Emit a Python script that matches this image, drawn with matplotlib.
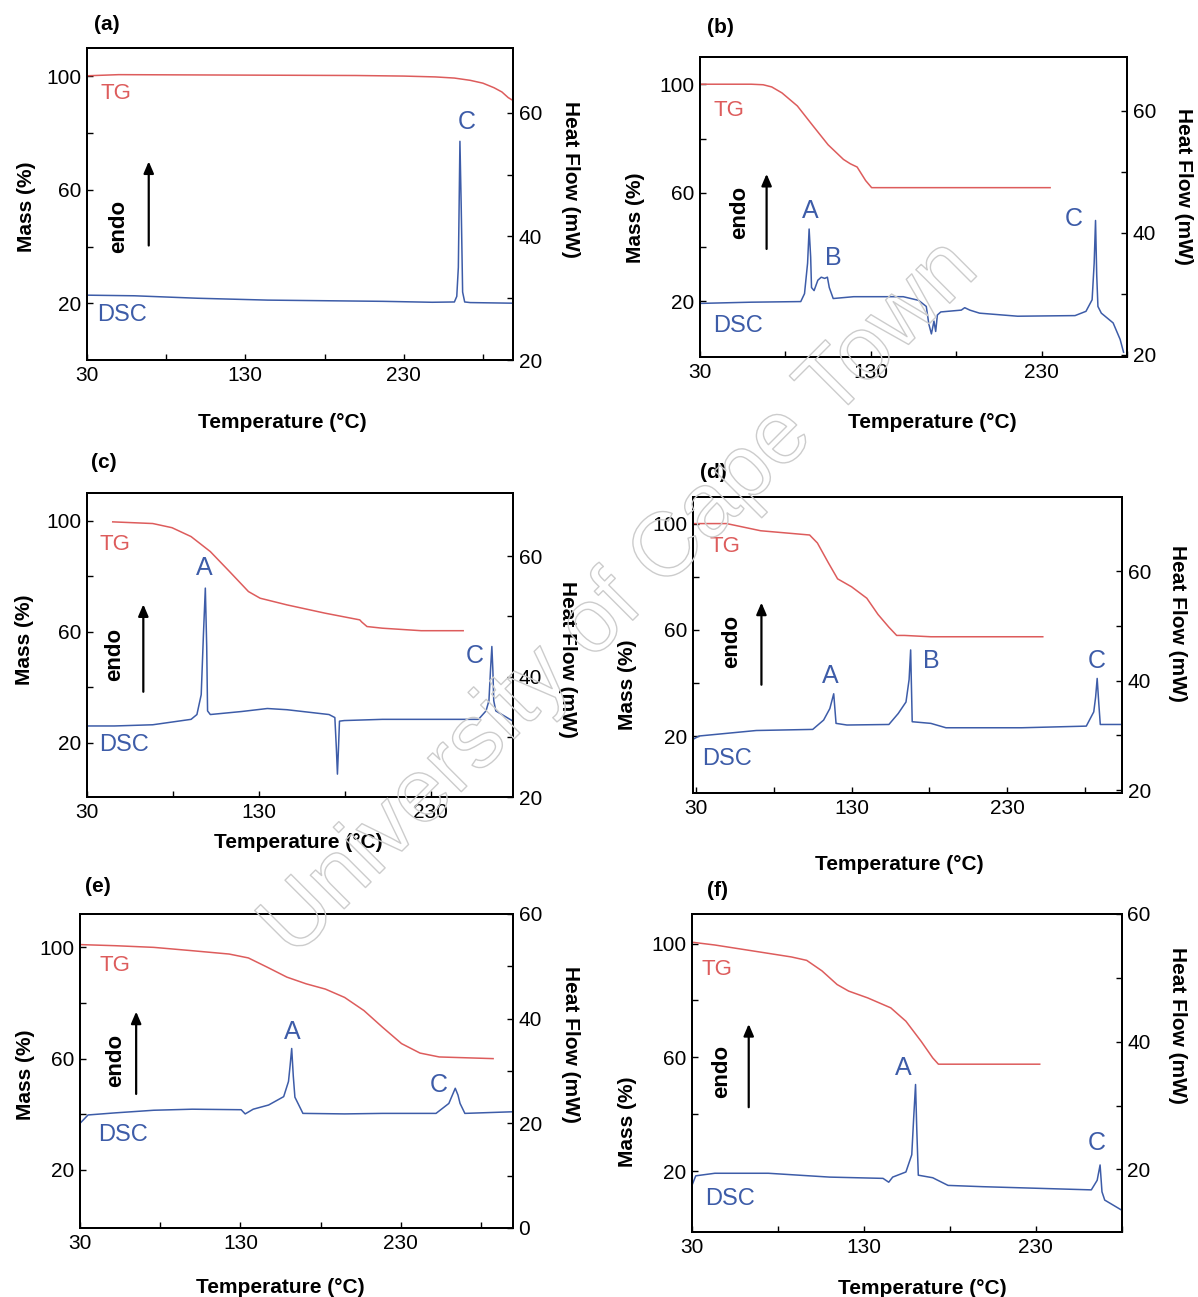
import numpy as np
import matplotlib.pyplot as plt
import matplotlib.patheffects as pe
from matplotlib.ticker import FixedLocator

plt.rcParams['font.family'] = ['Liberation Sans', 'DejaVu Sans']

RED = "#dd5c5c"
BLUE = "#3d5ca8"

# ---- (a) ----
tg_t_a = [30, 50, 100, 150, 200, 230, 250, 262, 272, 280, 287, 292, 296, 299]
tg_m_a = [100.2, 100.6, 100.5, 100.4, 100.3, 100.1, 99.8, 99.4, 98.6, 97.6, 96, 94.5, 92.5, 91.5]
dsc_t_a = [30, 60, 100, 144, 180, 217, 248, 262, 263.5, 264.5, 265.5, 266.3, 267.2, 268.5, 272, 299]
dsc_h_a = [30.5, 30.4, 30.0, 29.7, 29.6, 29.5, 29.35, 29.4, 30.3, 35, 55.4, 45, 31, 29.4, 29.3, 29.2]

# ---- (b) ----
tg_t_b = [30, 60, 67, 72, 78, 87, 96, 105, 114, 118, 122, 127, 130.5, 180, 235]
tg_m_b = [100, 100, 99.8, 99, 96.8, 92, 84.8, 77.7, 72.3, 70.7, 69.5, 64.5, 61.9, 61.9, 61.9]
dsc_t_b = [30, 60, 89, 91.2, 93, 93.9, 94.8, 95.3, 96.8, 99, 101, 103, 104.6, 105.7, 108, 120, 149,
           158, 162.5, 164, 165.5, 167, 168, 169, 171, 183, 185, 188, 193.7, 216, 249.6, 256, 259.6,
           260.8, 261.6, 262.3, 263, 265, 271.9, 276, 278]
dsc_h_b = [28.4, 28.6, 28.7, 30, 35, 40.6, 36, 31, 30.5, 32.2, 32.7, 32.5, 32.7, 31, 29.2, 29.5, 29.5,
           28.9, 27.9, 25, 23.4, 25.5, 23.8, 26.5, 27, 27.3, 27.7, 27.3, 26.8, 26.3, 26.4, 27.1, 29,
           35, 42, 33, 27.9, 26.8, 25.2, 22.5, 20.4]

# ---- (c) ----
tg_t_c = [45, 68.3, 79.5, 90.6, 101.8, 113, 124, 130.8, 146.4, 168.7, 188.8, 190, 193, 202, 224.6, 249]
tg_m_c = [99.6, 99, 97.5, 94.3, 88.9, 81.7, 74.5, 72.1, 69.7, 66.7, 64.3, 63.5, 61.9, 61.3, 60.4, 60.4]
dsc_t_c = [30, 46, 68.3, 90.6, 94, 96.5, 97.8, 98.9, 99.7, 100.2, 101.8, 120, 135, 146.4, 170.9, 174.3,
           175.2, 175.8, 176.4, 177, 179.8, 202, 257.9, 262.3, 264, 264.9, 265.7, 266.3, 266.8, 268, 278]
dsc_h_c = [31.8, 31.8, 32, 32.9, 33.7, 37, 47, 54.7, 45, 34.3, 33.7, 34.2, 34.7, 34.5, 33.7, 33.2,
           28, 23.8, 28, 32.6, 32.7, 32.9, 32.9, 34.3, 36, 41, 45, 41, 36, 34.3, 32.6]

# ---- (d) ----
tg_t_d = [29, 49.6, 71.5, 103, 108, 115, 121, 130, 139.8, 147, 154, 159, 164, 181, 253]
tg_m_d = [100, 100, 97.3, 95.7, 92.7, 85.3, 79.2, 76.2, 71.9, 65.8, 61, 57.9, 57.9, 57.4, 57.4]
dsc_t_d = [28, 32, 68.7, 105, 112, 116, 118.5, 120, 127, 154, 160, 165, 167, 168, 169, 181, 190.7,
           239.5, 281, 285.8, 287, 288, 289, 290, 304]
dsc_h_d = [29.3, 29.9, 30.9, 31.1, 32.8, 34.9, 37.6, 32.2, 31.9, 32, 34, 36.1, 40.2, 45.6, 32.5, 32.2,
           31.4, 31.4, 31.7, 34.3, 37, 40.4, 36, 32, 32]

# ---- (e) ----
tg_t_e = [30, 52, 76, 100, 123, 135, 147, 159, 171, 183, 195, 207, 218.6, 230.5, 242, 254, 287.6]
tg_m_e = [101, 100.6, 100, 98.8, 97.6, 96.2, 92.8, 89.3, 86.9, 85, 82, 77.3, 71.3, 65.4, 62, 60.6, 60]
dsc_t_e = [30, 35, 52, 76, 100, 130.5, 133, 138, 147.6, 157, 160, 161, 162, 163, 164, 169, 195,
           218.6, 252, 260, 264, 265.7, 267, 270, 299]
dsc_h_e = [20, 21.6, 22, 22.5, 22.7, 22.6, 21.8, 22.7, 23.5, 25.1, 28, 31, 34.3, 29, 25, 21.9, 21.8,
           21.9, 21.9, 23.8, 26.7, 25.4, 23.8, 21.9, 22.2]

# ---- (f) ----
tg_t_f = [31.1, 43.3, 65.6, 87.8, 96.7, 105.6, 114.4, 121.1, 132.2, 145.6, 154.4, 163.3, 170, 173.3, 232.2]
tg_m_f = [100.4, 99.5, 97.4, 95.3, 94.1, 90.4, 85.6, 83.3, 80.9, 77.4, 72.7, 65.6, 59.8, 57.6, 57.6]
dsc_t_f = [30, 32.2, 43.3, 74.4, 110, 141.1, 144.4, 146.7, 154.4, 157.8, 158.9, 160, 160.7, 161.6,
           170, 172.2, 178.9, 198.9, 262.2, 265.6, 267.3, 268.4, 270, 280]
dsc_h_f = [17.5, 19, 19.4, 19.4, 18.8, 18.6, 18, 18.8, 19.6, 22.3, 28, 33.3, 26.4, 19.1,
           18.7, 18.4, 17.5, 17.3, 16.8, 18.3, 20.7, 16.5, 15.2, 13.6]

panels = [
    dict(name="(a)", pos=[0.0726, 0.7224, 0.3556, 0.2406], xlim=(30, 299), mlim=(0, 110), hlim=(20, 70.5),
         tg=(tg_t_a, tg_m_a), dsc=(dsc_t_a, dsc_h_a), peaks=[("C", 270, 58.5)],
         tg_lab=(48, 94), dsc_lab=(52, 27.3), arrow=(69, 39.4, 71), endo=(50, 47),
         htick=[20, 40, 60], title=(0.047, 1.074), mass_lab=(-0.141, 0.49),
         hf_lab=(1.136, 0.58), t_lab=(0.458, -0.199)),
    dict(name="(b)", pos=[0.5843, 0.7247, 0.3564, 0.2313], xlim=(30, 280), mlim=(-0.5, 110), hlim=(19.6, 68.8),
         tg=(tg_t_b, tg_m_b), dsc=(dsc_t_b, dsc_h_b),
         peaks=[("A", 94.6, 43.6), ("B", 108, 35.9), ("C", 249, 42.2)],
         tg_lab=(47, 90.2), dsc_lab=(52, 24.7), arrow=(69, 38.3, 68), endo=(53, 52.6),
         htick=[20, 40, 60], title=(0.047, 1.097), mass_lab=(-0.152, 0.463),
         hf_lab=(1.132, 0.57), t_lab=(0.543, -0.217)),
    dict(name="(c)", pos=[0.0726, 0.3855, 0.3556, 0.2344], xlim=(30, 278), mlim=(0.5, 110), hlim=(20, 70.5),
         tg=(tg_t_c, tg_m_c), dsc=(dsc_t_c, dsc_h_c), peaks=[("A", 98.5, 58), ("C", 255.6, 43.4)],
         tg_lab=(46, 91.3), dsc_lab=(51.6, 28.7), arrow=(62.8, 37.4, 70.9), endo=(46, 51.7),
         htick=[20, 40, 60], title=(0.04, 1.099), mass_lab=(-0.146, 0.516),
         hf_lab=(1.127, 0.454), t_lab=(0.495, -0.151)),
    dict(name="(d)", pos=[0.5785, 0.3886, 0.3581, 0.2282], xlim=(28, 304), mlim=(-1.4, 110), hlim=(19.5, 73.5),
         tg=(tg_t_d, tg_m_d), dsc=(dsc_t_d, dsc_h_d),
         peaks=[("A", 116.5, 40.8), ("B", 181, 43.5), ("C", 287.8, 43.5)],
         tg_lab=(48.7, 91.5), dsc_lab=(50, 25.7), arrow=(72, 38.3, 71.3), endo=(53, 55.6),
         htick=[20, 40, 60], title=(0.047, 1.084), mass_lab=(-0.152, 0.365),
         hf_lab=(1.13, 0.574), t_lab=(0.48, -0.242)),
    dict(name="(e)", pos=[0.0668, 0.0532, 0.3614, 0.2421], xlim=(30, 300), mlim=(-0.9, 112), hlim=(0, 60),
         tg=(tg_t_e, tg_m_e), dsc=(dsc_t_e, dsc_h_e), peaks=[("A", 162.6, 37.5), ("C", 253.8, 27.3)],
         tg_lab=(52, 93.4), dsc_lab=(56.7, 17.8), arrow=(65, 46.3, 77.9), endo=(52, 59.4),
         htick=[0, 20, 40, 60], title=(0.042, 1.086), mass_lab=(-0.127, 0.487),
         hf_lab=(1.134, 0.583), t_lab=(0.463, -0.188)),
    dict(name="(f)", pos=[0.5776, 0.0501, 0.3589, 0.2452], xlim=(30, 280), mlim=(-1.4, 110.4), hlim=(10.2, 60),
         tg=(tg_t_f, tg_m_f), dsc=(dsc_t_f, dsc_h_f), peaks=[("A", 153, 35.9), ("C", 265.5, 24.1)],
         tg_lab=(44.4, 91), dsc_lab=(52, 15.4), arrow=(63, 41.5, 72.7), endo=(47, 55),
         htick=[20, 40, 60], title=(0.06, 1.075), mass_lab=(-0.149, 0.346),
         hf_lab=(1.13, 0.651), t_lab=(0.536, -0.177)),
]

fig = plt.figure(figsize=(11.98, 12.97), dpi=100)

for p in panels:
    ax = fig.add_axes(p["pos"])
    ax2 = ax.twinx()

    ax.plot(p["tg"][0], p["tg"][1], color=RED, lw=1.1)
    ax2.plot(p["dsc"][0], p["dsc"][1], color=BLUE, lw=1.1)

    ax.set_xlim(p["xlim"])
    ax.set_ylim(p["mlim"])
    ax2.set_ylim(p["hlim"])

    ax.xaxis.set_major_locator(FixedLocator([30, 130, 230]))
    ax.xaxis.set_minor_locator(FixedLocator([80, 180, 280]))
    ax.yaxis.set_major_locator(FixedLocator([20, 60, 100]))
    ax.yaxis.set_minor_locator(FixedLocator([40, 80]))
    ax2.yaxis.set_major_locator(FixedLocator(p["htick"]))
    ax2.yaxis.set_minor_locator(FixedLocator([10, 30, 50]))

    for a in (ax, ax2):
        a.tick_params(which="both", direction="in", length=4, width=1, labelsize=15, pad=4)
        for s in a.spines.values():
            s.set_linewidth(1.4)

    ax.text(p["tg_lab"][0], p["tg_lab"][1], "TG", color=RED, fontsize=16, ha="center", va="center")
    ax2.text(p["dsc_lab"][0], p["dsc_lab"][1], "DSC", color=BLUE, fontsize=17, ha="center", va="center")
    for lab, tx, hy in p["peaks"]:
        ax2.text(tx, hy, lab, color=BLUE, fontsize=18, ha="center", va="center")

    xa, y0, y1 = p["arrow"]
    ax.annotate("", xy=(xa, y1), xytext=(xa, y0),
                arrowprops=dict(arrowstyle="-|>,head_length=0.7,head_width=0.3", color="black", lw=1.6))
    ax.text(p["endo"][0], p["endo"][1], "endo", rotation=90, fontsize=16, fontweight="bold",
            ha="center", va="center")

    ax.text(p["title"][0], p["title"][1], p["name"], transform=ax.transAxes, fontsize=15,
            fontweight="bold", ha="center", va="center")
    ax.text(p["mass_lab"][0], p["mass_lab"][1], "Mass (%)", transform=ax.transAxes, rotation=90,
            fontsize=15, fontweight="bold", ha="center", va="center")
    ax.text(p["hf_lab"][0], p["hf_lab"][1], "Heat Flow (mW)", transform=ax.transAxes, rotation=-90,
            fontsize=15, fontweight="bold", ha="center", va="center")
    ax.text(p["t_lab"][0], p["t_lab"][1], "Temperature (\u00b0C)", transform=ax.transAxes,
            fontsize=15, fontweight="bold", ha="center", va="center")

# watermark
fig.text(0.518, 0.538, "University of Cape Town", rotation=45, fontsize=65, color="none",
         ha="center", va="center",
         path_effects=[pe.Stroke(linewidth=1.0, foreground="#cccccc")], zorder=10)

fig.savefig("out.png", dpi=100)
